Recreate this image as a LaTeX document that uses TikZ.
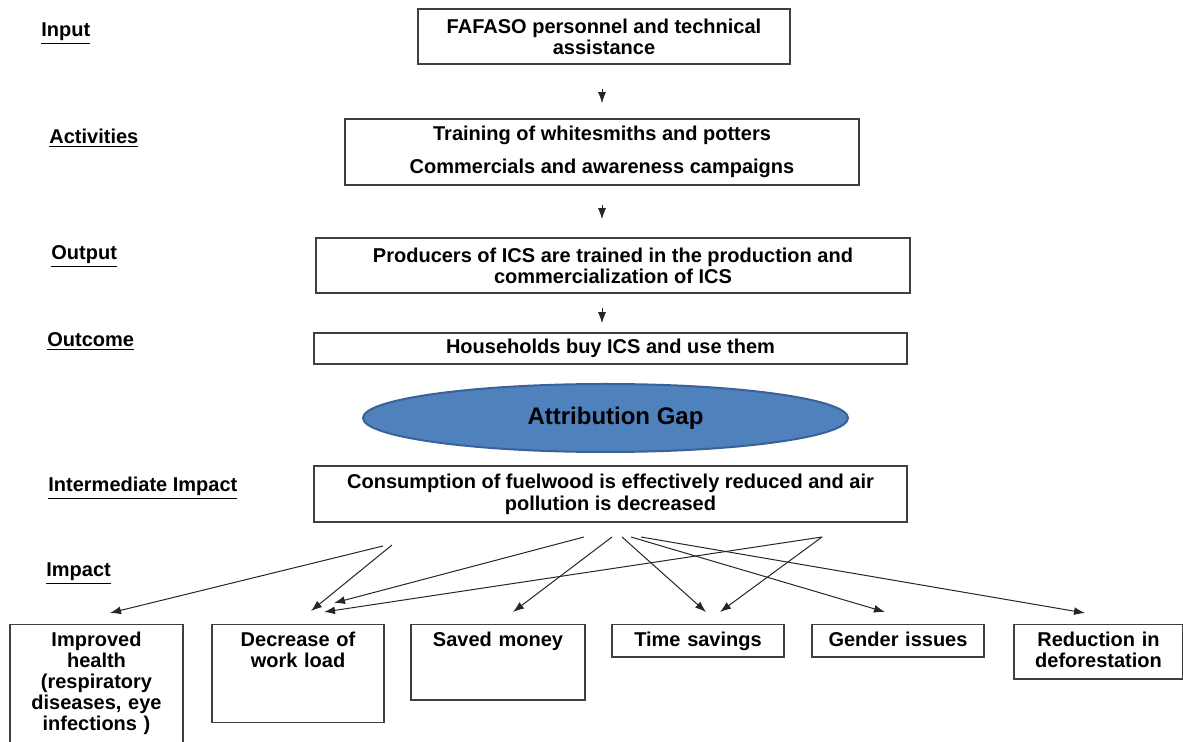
\documentclass[tikz,border=0pt]{standalone}
\usepackage{fontspec}
\setmainfont{Liberation Sans}
\usepackage{tikz}
\usetikzlibrary{positioning,shapes,arrows.meta,calc}
\definecolor{gapblue}{HTML}{4F81BD}
\definecolor{gapedge}{HTML}{3A6296}
\definecolor{boxline}{HTML}{3F3F3F}

\begin{document}
\begin{tikzpicture}[x=0.5pt,y=-0.5pt,
  box/.style={draw=boxline,line width=0.75pt,fill=white,align=center,inner sep=0pt,
    font=\bfseries\fontsize{10}{10.5}\selectfont},
  lvl/.style={anchor=west,inner sep=0pt,font=\bfseries\fontsize{10}{12}\selectfont},
  imp/.style={box,anchor=north,inner xsep=0pt,inner ysep=3pt,text height=8pt},
  link/.style={-{Latex[length=5.5pt,width=4pt]},line width=0.5pt,black!85}]
\useasboundingbox (0,0) rectangle (1183,742);
% levels
\node[lvl] (linput) at (41,34) {\underline{Input}};
\node[lvl] (lact) at (49,138) {\underline{Activities}};
\node[lvl] (lout) at (51,257) {\underline{Output}};
\node[lvl] (loutc) at (47,342) {\underline{Outcome}};
\node[lvl] (linter) at (48,488) {\underline{Intermediate Impact}};
\node[lvl] (limp) at (46,574) {\underline{Impact}};
% chain
\node[box,minimum width=186pt,minimum height=27.5pt] (inp) at (604,36.5) {FAFASO personnel and technical\\assistance};
\node[box,minimum width=257pt,minimum height=33pt] (act) at (602,152) {Training of whitesmiths and potters\\[6pt]Commercials and awareness campaigns};
\node[box,minimum width=297pt,minimum height=27.5pt] (outp) at (613,265.5) {Producers of ICS are trained in the production and\\commercialization of ICS};
\node[box,minimum width=296.5pt,minimum height=15.5pt] (outc) at (610.5,348.5) {Households buy ICS and use them};
\node[ellipse,draw=gapedge,line width=1pt,fill=gapblue,minimum width=242.5pt,minimum height=34pt,inner sep=0pt,
  font=\bfseries\fontsize{12}{14}\selectfont] (gap) at (605.5,418) {\hspace*{10pt}Attribution Gap};
\node[box,minimum width=296.5pt,minimum height=28pt] (inter) at (610.5,494) {Consumption of fuelwood is effectively reduced and air\\[0.5pt]pollution is decreased};
\draw[link,shorten <=12pt,shorten >=7.5pt] (inp.south -| act.north) -- (act.north);
\draw[link,shorten <=9.5pt,shorten >=9pt] (act.south) -- (outp.north -| act.south);
\draw[link,shorten <=7pt,shorten >=4.5pt] (outp.south -| act.south) -- (outc.north -| act.south);
% impacts
\node[imp,text width=86.5pt,text depth=48.25pt] (health) at (96.5,623.5) {Improved\\health\\(respiratory\\diseases, eye\\infections )};
\node[imp,text width=86pt,text depth=35pt] (load) at (298,623.5) {Decrease of\\work load};
\node[imp,text width=87pt,text depth=23.75pt] (money) at (498,623.5) {Saved money};
\node[imp,text width=86pt,text depth=2.25pt] (time) at (698,623.5) {Time savings};
\node[imp,text width=86pt,text depth=2.25pt] (gender) at (898,623.5) {Gender issues};
\node[imp,text width=84.5pt,text depth=13.25pt] (defor) at (1098.5,623.5) {Reduction in\\deforestation};
\coordinate (s1) at (383,546);
\coordinate (s2) at (392,545);
\coordinate (s3) at (584,537);
\coordinate (s4) at (612,537);
\coordinate (s5) at (622,537);
\coordinate (s6) at (631,537);
\coordinate (s7) at (641,537);
\coordinate (s8) at (822,537);
\draw[link] (s1) -- ($(health.north)+(13.5,-10.5)$);
\draw[link] (s2) -- ($(load.north)+(13,-12.5)$);
\draw[link] (s3) -- ($(load.north)+(36,-20.5)$);
\draw[link] (s8) -- ($(load.north)+(26,-11.5)$);
\draw[link] (s4) -- ($(money.north)+(15,-11.5)$);
\draw[link] (s5) -- ($(time.north)+(8,-11.5)$);
\draw[link] (s8) -- ($(time.north)+(22,-11.5)$);
\draw[link] (s6) -- ($(gender.north)+(-13,-11.5)$);
\draw[link] (s7) -- ($(defor.north)+(-13.5,-10.5)$);
\end{tikzpicture}
\end{document}
